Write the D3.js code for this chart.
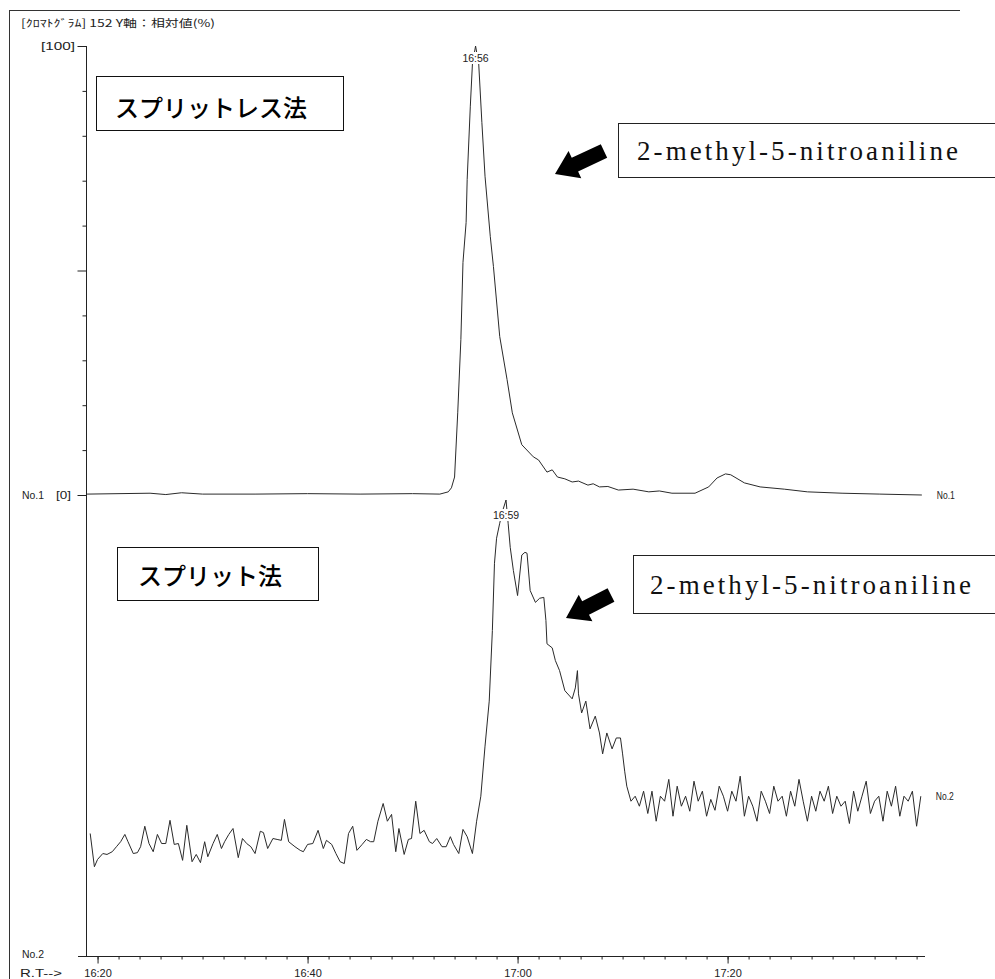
<!DOCTYPE html>
<html><head><meta charset="utf-8">
<script src="https://cdn.jsdelivr.net/npm/d3@7"></script>
<style>
body{margin:0;background:#fff;}
svg{display:block;}
</style></head><body>
<svg id="c" width="995" height="979"></svg>
<script>
// ---- data (retention time in seconds, intensity in relative %) ----
const rtTop = [979,985,986.5,988,990,995,1000,1005,1010,1012.6,1013.4,1013.7,1014.0,1014.3,1014.6,1014.8,1015.1,1015.2,1015.5,1015.7,1016.0,1016.3,1016.6,1016.9,1017.4,1017.7,1018.3,1019.0,1019.5,1020.4,1021.5,1022.0,1022.8,1023.3,1023.8,1024.5,1025.2,1025.8,1026.7,1027.2,1027.8,1028.6,1029.6,1031.0,1032.5,1033.5,1034.7,1036.9,1038.2,1039.0,1039.8,1040.3,1041.6,1043.1,1045.4,1047.6,1050.9,1054.5,1058.5];
const intTop = [0.2,0.4,0.1,0.5,0.2,0.2,0.3,0.2,0.3,0.2,0.7,1.6,4.0,18.3,34.6,51.8,60.7,70.3,86.6,96.0,100,96.0,83.0,71.0,57.6,50.9,35.3,25.7,18.3,11.2,8.5,7.8,5.1,5.6,4.0,3.6,2.9,3.1,2.2,2.5,1.8,1.9,1.1,1.3,0.7,0.9,0.4,0.4,1.8,3.8,4.7,4.5,2.7,1.8,1.3,0.7,0.4,0.2,0.0];

const rtBottom = [
 979.3,979.7,980.0,980.5,980.9,981.4,981.8,982.2,982.6,982.9,
 983.4,983.8,984.1,984.5,984.9,985.3,985.7,986.1,986.5,986.9,
 987.3,987.7,988.1,988.5,989.0,989.4,989.8,990.2,990.5,991.0,
 991.4,991.8,992.1,992.5,992.9,993.4,993.8,994.2,994.6,995.0,
 995.5,995.8,996.2,996.7,997.1,997.5,997.8,998.2,998.8,999.3,
 999.6,1000.0,1000.5,1001.0,1001.5,1001.8,1002.3,1002.7,1003.1,1003.5,
 1003.9,1004.3,1004.7,1005.2,1005.6,1006.0,1006.3,1006.7,1007.2,1007.6,
 1008.0,1008.4,1008.7,1009.2,1009.6,1009.9,1010.3,1010.7,1011.1,1011.6,
 1011.9,1012.3,1012.8,1013.2,1013.6,1013.9,1014.4,1014.8,1015.2,1015.7,
 1016.1,1016.5,1016.9,1017.3,1017.6,1017.8,1018.0,1018.3,1018.6,1018.9,
 1019.1,1019.3,1019.6,1020.0,1020.4,1020.7,1020.9,1021.2,1021.7,1022.1,
 1022.5,1022.7,1022.8,1023.3,1023.6,1024.0,1024.5,1025.2,1025.5,1025.7,
 1025.8,1026.1,1026.5,1026.9,1027.4,1027.8,1028.1,1028.5,1029.0,1029.4,
 1029.8,1030.0,1030.2,
 1030.4,1030.8,1031.2,1031.6,1032.0,1032.4,1032.8,1033.2,1033.6,1034.0,
 1034.4,1034.8,1035.2,1035.6,1036.0,1036.4,1036.8,1037.2,1037.6,1038.0,
 1038.4,1038.8,1039.2,1039.6,1040.0,1040.4,1040.8,1041.2,1041.6,1042.0,
 1042.4,1042.8,1043.2,1043.6,1044.0,1044.4,1044.8,1045.2,1045.6,1046.0,
 1046.4,1046.8,1047.2,1047.6,1048.0,1048.4,1048.8,1049.2,1049.6,1050.0,
 1050.4,1050.8,1051.2,1051.6,1052.0,1052.4,1052.8,1053.2,1053.6,1054.0,
 1054.4,1054.8,1055.2,1055.6,1056.0,1056.4,1056.8,1057.2,1057.6,1058.0,1058.4];
const intBottom = [
 26.7,19.4,21.0,22.3,22.1,22.7,23.8,24.9,26.5,24.9,
 22.3,22.5,23.8,28.3,24.5,22.7,26.5,24.5,24.5,29.6,
 24.3,24.5,20.8,28.5,20.5,22.1,20.3,24.9,21.6,24.5,
 26.5,23.4,24.9,26.5,27.8,21.4,25.6,24.5,23.8,22.3,
 27.2,26.9,23.4,25.6,25.4,25.2,29.8,24.9,23.8,23.0,
 22.7,24.3,24.5,27.4,23.4,25.2,24.3,22.3,20.5,20.1,
 26.7,28.3,23.0,24.3,25.4,24.9,24.9,29.4,33.3,29.4,
 30.9,22.7,27.8,22.1,25.4,25.6,33.8,26.7,27.4,24.9,
 24.5,25.6,23.8,23.8,26.0,24.3,22.3,27.6,26.0,22.3,
 29.4,34.9,45.9,55.8,71.3,86.1,91.6,94.9,97.8,100,
 94.9,89.6,84.5,79.0,87.9,88.5,88.3,80.1,77.5,78.4,
 78.6,73.5,68.4,67.5,64.7,62.5,58.1,56.3,58.7,62.5,
 57.4,53.2,55.8,49.7,52.5,48.8,44.2,48.8,45.3,47.7,
 47.7,44.2,40.4,
 37.1,33.8,34.9,32.7,36.0,31.1,36.0,29.4,34.9,33.8,
 38.6,30.5,37.1,32.7,34.9,31.6,38.2,33.8,36.0,30.5,
 34.2,31.8,37.1,34.9,31.6,36.0,33.8,39.3,30.5,34.9,
 32.7,29.4,36.0,33.8,31.1,37.1,33.8,34.9,30.5,36.0,
 32.7,38.6,33.8,29.4,34.9,31.6,36.0,33.8,37.1,31.1,
 34.9,32.7,33.8,28.9,36.0,31.6,34.9,38.2,31.1,33.8,
 34.9,29.4,36.0,32.7,37.1,30.5,34.9,33.8,36.0,28.3,34.9];

const xTickValues = [980, 1000, 1020, 1040];
const xTickLabels = ["16:20", "16:40", "17:00", "17:20"];
const yMajorTicks = [0, 50, 100];
const yMinorTicks = [10, 20, 30, 40, 60, 70, 80, 90];
const yTickLabels = {0: "[0]", 100: "[100]"};
const peakRT = [1016.0, 1018.9];
const peakLabels = ["16:56", "16:59"];
const traceNames = ["No.1", "No.2"];
const methodLabels = ["スプリットレス法", "スプリット法"];
const compoundLabel = "2-methyl-5-nitroaniline";
const headerText = "[ｸﾛﾏﾄｸﾞﾗﾑ]  152  Y軸：相対値(%)";
const axisLabel = "R.T-->";

// ---- drawing ----
const svg = d3.select("#c");
const small = "'Liberation Sans', Arial, sans-serif";
const ink = "#222";
const x = d3.scaleLinear().domain([978.9, 1058.8]).range([86, 925]);
const yTop = d3.scaleLinear().domain([0, 100]).range([495, 46]);
const yBot = d3.scaleLinear().domain([0, 100]).range([955, 500]);

function label(xp, yp, txt, opts = {}) {
  const t = svg.append("text").attr("x", xp).attr("y", yp)
    .attr("font-size", opts.size || 10.5).attr("font-family", opts.family || small)
    .attr("fill", opts.fill || ink).attr("text-anchor", opts.anchor || "start").text(txt);
  if (opts.len) t.attr("textLength", opts.len).attr("lengthAdjust", "spacingAndGlyphs");
  return t;
}

// frame
svg.append("line").attr("x1", 9.5).attr("x2", 9.5).attr("y1", 10).attr("y2", 979).attr("stroke", "#333");
svg.append("line").attr("x1", 9).attr("x2", 960).attr("y1", 10.5).attr("y2", 10.5).attr("stroke", "#333");

// header
label(21, 27, headerText, {size: 10.5, family: "'Noto Sans CJK JP', sans-serif", len: 194});

// y axis (upper trace)
const ax = 86.5;
svg.append("line").attr("x1", ax).attr("x2", ax).attr("y1", yTop(100)).attr("y2", 956).attr("stroke", ink);
const gY1 = svg.append("g").attr("transform", `translate(${ax},0)`)
  .call(d3.axisLeft(yTop).tickValues(yMajorTicks).tickSize(9).tickFormat(""));
const gY2 = svg.append("g").attr("transform", `translate(${ax},0)`)
  .call(d3.axisLeft(yTop).tickValues(yMinorTicks).tickSize(4).tickFormat(""));
[gY1, gY2].forEach(g => { g.select(".domain").remove(); g.selectAll("line").attr("stroke", ink); });
label(75, yTop(100) + 4, yTickLabels[100], {anchor: "end", size: 11, len: 34});
label(71, yTop(0) + 4, yTickLabels[0], {anchor: "end", size: 11, len: 15});
label(22, yTop(0) + 4, traceNames[0], {size: 11, len: 22});
label(22, yBot(0) + 3, traceNames[1], {size: 11, len: 22});
label(20, 977, axisLabel, {size: 11, len: 42});

// x axis
const axY = 956.5;
svg.append("line").attr("x1", 78).attr("x2", 925).attr("y1", axY).attr("y2", axY).attr("stroke", ink);
const minorX = d3.range(980, 1059, 2);
const gXm = svg.append("g").attr("transform", `translate(0,${axY})`)
  .call(d3.axisBottom(x).tickValues(minorX).tickSize(3).tickFormat(""));
const gX = svg.append("g").attr("transform", `translate(0,${axY})`)
  .call(d3.axisBottom(x).tickValues(xTickValues).tickSize(7).tickPadding(6)
    .tickFormat((d, i) => xTickLabels[i]));
[gXm, gX].forEach(g => { g.select(".domain").remove(); g.selectAll("line").attr("stroke", ink); });
gX.selectAll("text").attr("font-size", 11).attr("font-family", small).attr("fill", ink);

// traces
const topData = rtTop.map((t, i) => [t, intTop[i]]);
const botData = rtBottom.map((t, i) => [t, intBottom[i]]);
svg.append("path").datum(topData).attr("fill", "none").attr("stroke", "#2a2a2a").attr("stroke-width", 1)
  .attr("d", d3.line().x(d => x(d[0])).y(d => yTop(d[1])));
svg.append("path").datum(botData).attr("fill", "none").attr("stroke", "#2a2a2a").attr("stroke-width", 1)
  .attr("d", d3.line().x(d => x(d[0])).y(d => yBot(d[1])));

// trace end labels
label(x(rtTop[rtTop.length - 1]) + 15, yTop(0) + 4, traceNames[0], {size: 10, len: 18});
label(x(rtBottom[rtBottom.length - 1]) + 15, yBot(intBottom[intBottom.length - 1]) + 4, traceNames[1], {size: 10, len: 18});

// peak labels
const peakY = [yTop(100) + 12, yBot(100) + 15];
peakRT.forEach((t, i) => {
  const cx = x(t), cy = peakY[i];
  svg.append("rect").attr("x", cx - 14).attr("y", cy - 6).attr("width", 28).attr("height", 12).attr("fill", "#fff");
  label(cx, cy + 4, peakLabels[i], {anchor: "middle", size: 10.5});
});

// method boxes
const methodBoxes = [
  {x: 96.5, y: 76.5, w: 247, h: 54, tx: 115, ty: 117},
  {x: 117.5, y: 547.5, w: 201, h: 53, tx: 138, ty: 585}
];
methodBoxes.forEach((b, i) => {
  svg.append("rect").attr("x", b.x).attr("y", b.y).attr("width", b.w).attr("height", b.h)
    .attr("fill", "#fff").attr("stroke", "#111").attr("stroke-width", 1);
  svg.append("text").attr("x", b.tx).attr("y", b.ty).attr("font-size", 24).attr("font-weight", 500)
    .attr("font-family", "'Noto Sans CJK JP', sans-serif").attr("fill", "#000").text(methodLabels[i]);
});

// compound boxes
const compBoxes = [
  {x: 618.5, y: 123.5, w: 400, h: 54, tx: 637, ty: 160},
  {x: 633.5, y: 555.5, w: 400, h: 58, tx: 650, ty: 594}
];
compBoxes.forEach(b => {
  svg.append("rect").attr("x", b.x).attr("y", b.y).attr("width", b.w).attr("height", b.h)
    .attr("fill", "#fff").attr("stroke", "#222").attr("stroke-width", 1);
  svg.append("text").attr("x", b.tx).attr("y", b.ty).attr("font-size", 27)
    .attr("font-family", "'Liberation Serif', 'Times New Roman', serif").attr("fill", "#111")
    .attr("textLength", 321).attr("lengthAdjust", "spacing").text(compoundLabel);
});

// arrows
const arrows = [
  {tip: [555, 174], tail: [604, 151]},
  {tip: [566, 618], tail: [611, 595]}
];
arrows.forEach(a => {
  const dx = a.tail[0] - a.tip[0], dy = a.tail[1] - a.tip[1];
  const L = Math.hypot(dx, dy), ang = Math.atan2(dy, dx) * 180 / Math.PI;
  const hl = 22, hw = 15, sw = 7.5;
  const pts = [[0, 0], [hl, -hw], [hl, -sw], [L, -sw], [L, sw], [hl, sw], [hl, hw]];
  svg.append("polygon").attr("points", pts.map(p => p.join(",")).join(" "))
    .attr("transform", `translate(${a.tip[0]},${a.tip[1]}) rotate(${ang})`)
    .attr("fill", "#000");
});
</script>
</body></html>
